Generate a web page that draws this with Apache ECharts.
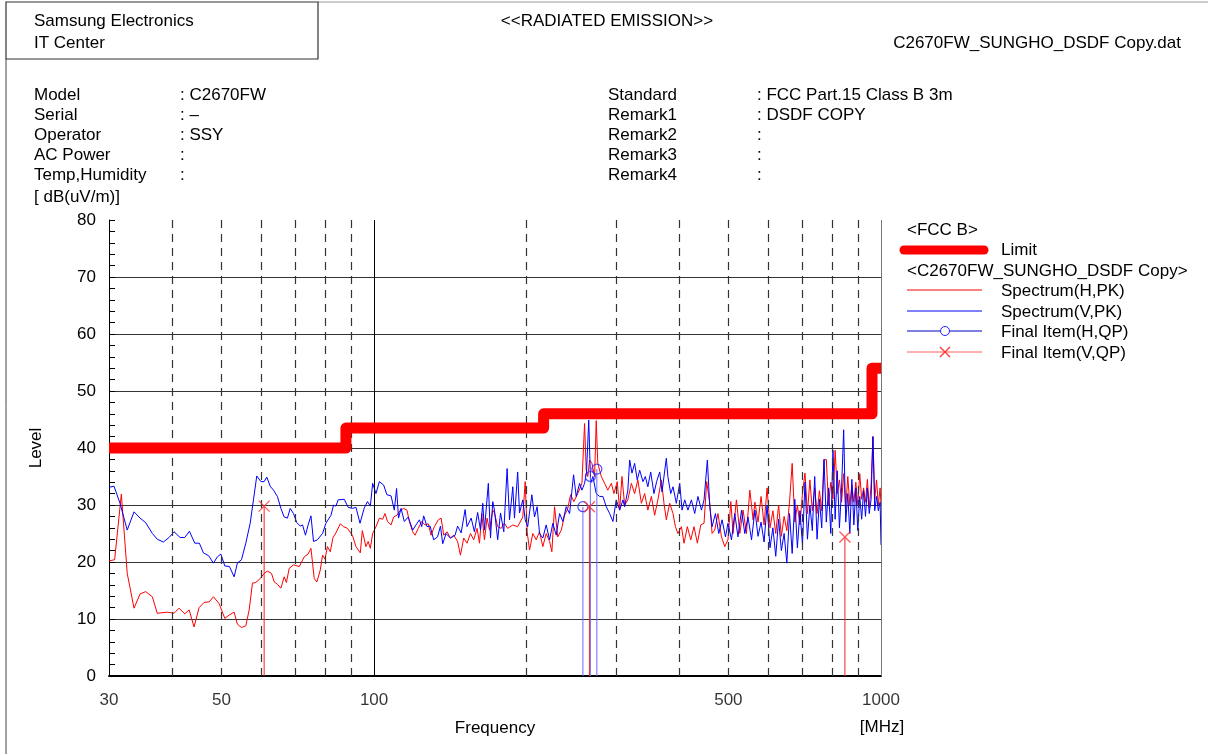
<!DOCTYPE html>
<html>
<head>
<meta charset="utf-8">
<script src="https://cdn.jsdelivr.net/npm/echarts@6/dist/echarts.min.js"></script>
<style>
html,body{margin:0;padding:0;background:#fff;}
#chart{width:1208px;height:754px;}
</style>
</head>
<body>
<div id="chart"></div>
<script>
// ---------------- DATA ----------------
// FCC Part 15 Class B limit (3 m)
const limitFreq  = [30, 88, 88, 216, 216, 960, 960, 1000];
const limitLevel = [40, 40, 43.5, 43.5, 46, 46, 54, 54];

// Spectrum (V,PK) - blue trace, 30 .. 560 MHz
const vFreqLow = [30.0,30.69,31.54,32.59,33.61,34.55,35.44,36.53,37.35,38.40,39.41,40.31,41.44,42.32,43.23,44.29,45.23,46.06,47.17,48.21,49.07,49.86,50.77,51.85,52.96,53.74,54.76,55.84,56.97,57.82,58.70,59.81,60.70,61.43,62.39,63.33,64.46,65.50,66.48,67.46,68.33,69.35,70.41,71.51,72.26,73.23,74.11,75.08,75.96,77.32,79.14,80.35,82.23,83.20,84.09,84.95,87.34,88.89,90.71,92.10,93.82,95.65,97.06,98.33,99.35,100.87,102.43,104.44,106.02,108.03,109.64,110.77,111.75,113.04,114.74,116.78,119.16,120.98,122.87,124.16,125.28,127.18,128.99,131.10,133.44,135.18,136.59,138.67,141.47,144.49,146.15,148.51,151.21,152.55,155.43,157.76,160.07,162.16,163.84,165.10,168.04,169.70,171.46,172.78,175.32,177.60,180.26,183.0,185.01,187.79,189.23,192.0,193.62,196.52,198.65,200.94,204.76,207.25,209.74,212.06,215.24,218.53,221.93,225.26,228.70,232.25,235.73,239.33,243.06,247.48,250.47,254.37,257.04,260.17,262.48,265.15,267.42,270.20,274.33,278.59,282.77,287.09,291.56,295.93,300.45,305.12,309.70,312.08,316.65,319.32,322.67,326.60,330.53,334.18,339.19,342.87,346.81,351.32,356.58,360.89,366.00,369.84,377.16,379.83,384.78,388.78,394.71,400.86,405.07,410.00,416.01,422.74,429.07,435.37,442.41,447.63,454.44,459.46,464.28,471.41,478.66,485.89,493.34,499.02,507.08,514.68,522.23,530.69,538.64,546.54,555.37];
const vLevelLow = [33.1,33.3,30.3,25.6,28.8,27.7,26.9,25.0,24.0,23.5,24.3,25.3,24.3,24.3,25.4,23.3,23.3,21.6,21.1,19.8,20.9,21.4,19.3,19.2,17.4,19.8,20.4,23.3,26.8,30.9,35.1,34.1,34.1,34.9,33.3,32.6,31.5,29.4,27.9,27.7,29.4,28.5,26.9,26.3,26.5,24.7,26.5,28.1,23.6,23.9,25.0,26.8,28.2,30.0,29.8,30.9,31.0,29.6,29.4,29.6,26.8,29.5,30.6,29.8,33.8,32.0,34.1,33.5,31.8,31.6,29.1,32.9,27.7,29.4,27.1,27.9,25.6,26.5,27.4,26.2,28.1,26.2,26.3,23.9,24.4,26.3,23.2,25.0,24.2,24.7,26.3,25.1,29.2,26.2,27.7,25.3,28.7,25.6,30.3,25.6,33.8,24.2,30.6,29.1,23.9,28.6,25.3,36.4,27.4,33.2,27.7,35.8,28.6,30.9,27.4,26.2,31.8,27.9,29.7,25.0,24.2,26.5,23.9,26.8,24.7,28.5,27.1,29.7,28.5,35.3,31.5,33.8,32.6,33.8,35.8,44.9,33.8,35.0,32.0,31.5,31.5,29.7,28.5,27.1,30.9,29.1,30.9,29.7,32.6,37.9,35.6,37.3,34.4,36.1,34.1,35.0,33.2,35.8,32.0,34.1,35.8,32.3,38.2,35.0,32.0,33.2,30.3,33.8,29.1,30.9,29.1,30.9,28.5,31.5,29.1,30.9,37.9,29.7,26.2,28.5,25.0,27.4,24.4,26.8,23.9,28.5,24.4,29.1,25.0,27.9,23.9];

// Spectrum (H,PK) - red trace, 30 .. 560 MHz
const hFreqLow = [30.0,30.78,31.73,32.59,33.61,34.55,35.44,36.53,37.35,39.08,40.31,41.25,42.32,43.17,44.15,45.17,46.20,47.28,48.21,49.48,50.77,51.78,52.96,53.74,54.76,55.84,56.71,57.56,58.44,59.62,60.70,61.59,62.76,63.53,64.46,65.50,66.48,67.16,68.02,69.35,71.19,72.81,74.11,75.08,76.20,77.12,78.33,79.14,80.00,80.92,81.97,82.98,84.09,85.78,87.06,88.62,90.71,92.10,93.95,94.80,96.37,97.35,98.33,99.35,100.87,102.43,103.97,105.09,106.30,108.03,109.30,110.96,112.69,114.38,116.12,117.40,119.16,120.45,122.21,124.16,126.06,127.91,129.57,131.51,133.85,135.61,137.21,139.29,141.47,143.59,146.15,148.05,150.27,152.55,154.94,157.26,159.65,161.42,163.11,165.10,167.09,168.93,171.46,172.78,175.32,178.15,180.82,183.47,187.79,192.0,196.52,198.65,200.42,202.63,205.67,208.81,212.06,215.24,218.53,221.93,224.26,226.99,230.32,234.04,237.55,241.03,244.17,247.82,252.25,257.04,260.17,262.13,263.99,266.21,269.01,272.28,274.33,276.27,280.74,284.94,289.12,293.81,297.27,301.79,305.12,308.32,312.08,316.65,321.78,326.60,331.39,336.75,341.80,346.81,352.42,357.70,362.95,368.82,373.17,377.16,383.03,388.78,392.99,397.51,403.95,408.72,414.93,421.42,427.73,434.24,441.03,447.63,453.04,459.46,464.28,469.94,476.83,484.54,491.80,499.02,505.50,510.76,518.56,526.63,534.53,542.69,551.13,559.40];
const hLevelLow = [20.2,20.4,31.9,18.0,11.9,14.4,14.8,13.9,11.0,11.2,11.0,11.9,10.9,11.6,8.6,12.0,12.9,13.0,13.9,12.7,10.1,10.7,11.2,9.1,8.5,8.8,11.6,16.3,16.4,17.1,18.0,18.4,18.0,16.5,16.1,15.4,17.4,16.4,18.9,19.5,19.2,20.9,21.4,22.4,17.1,16.5,18.6,21.2,20.5,22.7,21.8,24.3,25.1,26.7,26.2,25.9,24.6,22.7,21.6,25.5,22.7,23.6,22.4,25.0,26.2,27.7,27.5,28.5,27.1,26.5,27.9,28.2,29.1,29.4,29.1,27.1,25.3,24.7,25.9,27.1,26.5,26.7,24.7,26.2,27.4,27.7,24.7,25.3,24.2,24.7,23.6,21.2,24.2,23.3,25.0,23.9,25.9,23.3,28.5,23.9,27.7,25.6,29.1,28.6,26.2,25.9,26.8,25.9,26.5,26.2,27.9,34.1,25.3,22.1,25.0,23.9,25.3,22.7,25.0,23.6,21.8,29.7,24.4,25.6,28.2,29.4,31.8,30.6,32.0,33.8,44.3,36.1,35.0,37.9,37.3,35.0,44.8,37.3,35.0,33.8,32.6,33.8,32.0,34.1,29.1,35.0,30.0,30.9,33.8,32.0,34.4,30.3,32.0,29.1,31.5,28.2,30.9,34.4,30.3,27.4,30.3,28.5,26.2,25.0,26.2,23.3,26.2,23.9,26.2,23.3,26.5,26.8,34.1,30.3,25.0,25.6,28.5,24.4,22.7,23.9,30.6,25.0,30.9,25.0,29.1,25.0,32.6,27.4];

// Upper band, both polarisations read at the same frequencies (MHz)
const hiFreq = [564,572,580,588,596,604,612,620,628,636,644,652,660,668,676,684,692,700,708,716,724,732,740,748,756,764,772,780,788,796,804,812,820,828,836,844,852,860,868,876,884,892,900,908,916,924,932,940,948,956,964,972,980,988,996,1000];
const vLevelHi = [29.1,24.5,27.0,23.5,30.0,22.5,26.0,21.0,27.5,22.0,25.0,19.8,28.5,21.5,31.0,22.5,29.0,23.0,34.0,24.0,30.0,25.5,35.0,24.0,31.0,26.0,38.0,27.0,33.0,25.0,39.6,27.5,36.0,26.0,33.0,43.2,27.0,32.0,25.0,34.5,26.5,33.0,25.5,31.5,27.5,32.5,28.0,33.0,28.5,31.0,42.0,29.0,31.5,29.0,30.5,23.0];
const hLevelHi = [30.5,27.0,31.5,26.5,33.0,26.0,29.0,25.0,30.0,24.5,28.0,25.5,30.5,37.3,27.0,30.0,26.5,32.0,35.6,28.5,34.4,29.0,33.0,28.5,32.5,29.0,37.9,38.0,30.0,34.0,31.0,39.6,32.0,34.4,30.5,35.5,29.5,35.0,30.0,33.5,30.5,34.0,30.0,35.5,31.0,33.0,30.5,34.5,29.5,33.5,42.0,31.0,34.4,30.0,33.0,30.0];

// Final measurements (QP)
const finalHFreq  = [258.2, 267.1, 275.1];
const finalHLevel = [29.7, 35.0, 36.3];
const finalVFreq  = [60.7, 266.0, 848.8];
const finalVLevel = [29.8, 29.7, 24.4];

// Axis / grid
const xTickLabels = [30, 50, 100, 500, 1000];
const gridDashedFreq = [40, 50, 60, 70, 80, 90, 200, 300, 400, 500, 600, 700, 800, 900];
const gridSolidFreq = [100];
const gridBorderFreq = [1000];

// ---------------- CHART ----------------
const FONT = "'Liberation Sans', Arial, sans-serif";
const zip = (a, b) => a.map((v, i) => [v, b[i]]);
const vData = zip(vFreqLow.concat(hiFreq), vLevelLow.concat(vLevelHi));
const hData = zip(hFreqLow.concat(hiFreq), hLevelLow.concat(hLevelHi));

function txt(x, y, s, align) {
  return {type: 'text', x: x, y: y, silent: true,
    style: {text: s, fill: '#000', font: '17px ' + FONT, textAlign: align || 'left',
            textVerticalAlign: 'middle', verticalAlign: 'middle'}};
}
function ln(x1, y1, x2, y2, stroke, w, extra) {
  return Object.assign({type: 'line', silent: true, shape: {x1, y1, x2, y2},
    style: {stroke: stroke, lineWidth: w || 1, lineCap: 'butt'}}, extra || {});
}

function stemSeries(freqs, levels, color, z) {
  return {
    type: 'custom', z: z, silent: true, clip: true,
    data: zip(freqs, levels),
    renderItem: function (params, api) {
      const top = api.coord([api.value(0), api.value(1)]);
      const bot = api.coord([api.value(0), 0]);
      return {type: 'line', shape: {x1: top[0], y1: top[1], x2: bot[0], y2: bot[1]},
              style: {stroke: color, lineWidth: 1}};
    }
  };
}

const chart = echarts.init(document.getElementById('chart'), null, {renderer: 'canvas'});

const graphics = [
  // page frame and header box
  ln(318, 2, 1208, 2, '#999', 1),
  ln(6, 59, 6, 754, '#444', 1),
  {type: 'rect', silent: true, shape: {x: 6, y: 2, width: 312, height: 57},
   style: {fill: 'none', stroke: '#333', lineWidth: 1.2}},
  txt(34, 21, 'Samsung Electronics'),
  txt(34, 43, 'IT Center'),
  txt(607, 21, '<<RADIATED EMISSION>>', 'center'),
  txt(1181, 43, 'C2670FW_SUNGHO_DSDF Copy.dat', 'right'),
  txt(34, 95, 'Model'), txt(180, 95, ': C2670FW'),
  txt(34, 115, 'Serial'), txt(180, 115, ': –'),
  txt(34, 135, 'Operator'), txt(180, 135, ': SSY'),
  txt(34, 155, 'AC Power'), txt(180, 155, ':'),
  txt(34, 175, 'Temp,Humidity'), txt(180, 175, ':'),
  txt(608, 95, 'Standard'), txt(757, 95, ': FCC Part.15 Class B 3m'),
  txt(608, 115, 'Remark1'), txt(757, 115, ': DSDF COPY'),
  txt(608, 135, 'Remark2'), txt(757, 135, ':'),
  txt(608, 155, 'Remark3'), txt(757, 155, ':'),
  txt(608, 175, 'Remark4'), txt(757, 175, ':'),
  txt(34, 197, '[ dB(uV/m)]'),
  txt(882, 727, '[MHz]', 'center'),
  // legend
  txt(907, 230, '<FCC B>'),
  ln(904, 250, 984, 250, '#ff0000', 9, {style: {stroke: '#ff0000', lineWidth: 9, lineCap: 'round'}}),
  txt(1001, 250, 'Limit'),
  txt(907, 271, '<C2670FW_SUNGHO_DSDF Copy>'),
  ln(907, 290, 982, 290, '#ff0000', 1),
  txt(1001, 291, 'Spectrum(H,PK)'),
  ln(907, 311, 982, 311, '#0000ff', 1),
  txt(1001, 312, 'Spectrum(V,PK)'),
  ln(907, 331, 982, 331, '#0000c8', 1),
  {type: 'circle', silent: true, shape: {cx: 945, cy: 331, r: 4.5}, style: {fill: '#fff', stroke: '#2020ff', lineWidth: 1}},
  txt(1001, 332, 'Final Item(H,QP)'),
  ln(907, 352, 982, 352, '#ff6060', 1),
  ln(940, 347, 950, 357, '#ff3030', 1.2),
  ln(950, 347, 940, 357, '#ff3030', 1.2),
  txt(1001, 353, 'Final Item(V,QP)')
];

const option = {
  animation: false,
  backgroundColor: '#fff',
  textStyle: {fontFamily: FONT},
  grid: {left: 109, right: 327, top: 220, bottom: 78, containLabel: false},
  xAxis: {
    type: 'log', logBase: 10, min: 30, max: 1000,
    name: 'Frequency', nameLocation: 'middle', nameGap: 44,
    nameTextStyle: {color: '#000', fontSize: 17, fontFamily: FONT},
    axisLine: {show: true, onZero: false, lineStyle: {color: '#000', width: 2}},
    axisTick: {show: false}, axisLabel: {show: false},
    splitLine: {show: false}, minorTick: {show: false}, minorSplitLine: {show: false}
  },
  yAxis: {
    type: 'value', min: 0, max: 80, interval: 10,
    name: 'Level', nameLocation: 'middle', nameGap: 64, nameRotate: 90,
    nameTextStyle: {color: '#000', fontSize: 17, fontFamily: FONT},
    axisLine: {show: true, lineStyle: {color: '#000', width: 1}},
    axisTick: {show: true, inside: true, length: 6, lineStyle: {color: '#000'}},
    minorTick: {show: true, splitNumber: 5, length: 6, lineStyle: {color: '#000'}},
    axisLabel: {color: '#000', fontSize: 17, fontFamily: FONT, margin: 13},
    splitLine: {show: true, showMinLine: false, showMaxLine: false, lineStyle: {color: '#333', width: 1}}
  },
  graphic: graphics,
  series: [
    { // vertical frequency grid
      type: 'line', data: [], z: 1, silent: true,
      markLine: {
        silent: true, symbol: ['none', 'none'], label: {show: false}, animation: false,
        data: gridDashedFreq.map(f => ({xAxis: f, lineStyle: {color: '#333', width: 1.2, type: [8, 6]}}))
          .concat(gridSolidFreq.map(f => ({xAxis: f, lineStyle: {color: '#000', width: 1, type: 'solid'}})))
          .concat(gridBorderFreq.map(f => ({xAxis: f, lineStyle: {color: '#777', width: 1, type: 'solid'}})))
      }
    },
    { // x tick labels
      type: 'scatter', z: 1, silent: true, clip: false, symbolSize: 1,
      itemStyle: {color: 'rgba(0,0,0,0)'},
      data: xTickLabels.map(f => [f, 0]),
      label: {show: true, position: 'bottom', distance: 15, color: '#000', fontSize: 17, fontFamily: FONT,
              formatter: p => String(p.value[0])}
    },
    {
      name: 'Spectrum(H,PK)', type: 'line', data: hData, z: 2, silent: true,
      showSymbol: false, symbol: 'none', clip: true,
      lineStyle: {color: '#ff0000', width: 1}
    },
    {
      name: 'Spectrum(V,PK)', type: 'line', data: vData, z: 3, silent: true,
      showSymbol: false, symbol: 'none', clip: true,
      lineStyle: {color: '#0000ff', width: 1}
    },
    stemSeries(finalHFreq, finalHLevel, '#6a6aff', 4),
    stemSeries(finalVFreq, finalVLevel, '#ff2020', 4),
    {
      name: 'Limit', type: 'line', z: 5, silent: true, clip: true,
      data: zip(limitFreq, limitLevel), showSymbol: false, symbol: 'none',
      lineStyle: {color: '#ff0000', width: 11, cap: 'butt', join: 'round'}
    },
    {
      name: 'Final Item(H,QP)', type: 'scatter', z: 6, silent: true,
      data: zip(finalHFreq, finalHLevel), symbol: 'circle', symbolSize: 10,
      itemStyle: {color: 'rgba(0,0,0,0)', borderColor: '#2020ff', borderWidth: 1.2}
    },
    {
      name: 'Final Item(V,QP)', type: 'scatter', z: 6, silent: true,
      data: zip(finalVFreq, finalVLevel), symbol: 'path://M0,0L10,10M10,0L0,10', symbolSize: 11,
      itemStyle: {color: 'rgba(0,0,0,0)', borderColor: '#ff3030', borderWidth: 1.3}
    }
  ]
};
chart.setOption(option);
</script>
</body>
</html>
